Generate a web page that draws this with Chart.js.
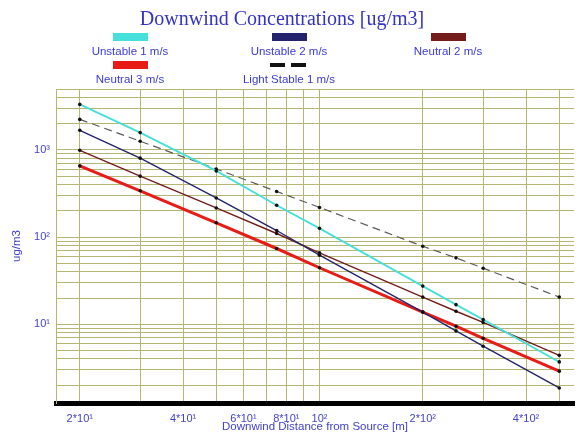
<!DOCTYPE html>
<html>
<head>
<meta charset="utf-8">
<script src="https://cdn.jsdelivr.net/npm/chart.js@4"></script>
<style>
html,body{margin:0;padding:0;background:#fff}
#wrap{width:578px;height:434px;position:relative}
</style>
</head>
<body>
<div id="wrap"><canvas id="chart"></canvas></div>
<script>
const distances=[20,30,50,75,100,200,250,300,500]

const unstable1=[3330,1580,575,232,126,27.4,16.8,11.3,3.7]
const unstable2=[1680,805,281,119,62,13.8,8.4,5.6,1.86]
const neutral2=[990,500,216,110,66,20.5,14.1,10.5,4.4]
const neutral3=[656,340,146,74,44.5,13.8,9.5,6.9,2.9]
const lightStable1=[2240,1260,605,334,219,78.5,57.8,44,20.5]

const seriesNames=["Unstable 1 m/s","Unstable 2 m/s","Neutral 2 m/s","Neutral 3 m/s","Light Stable 1 m/s"]

const xGrid=[20,30,40,50,60,70,80,90,100,200,300,400,500]
const xTickValues=[20,40,60,80,100,200,400]
const xTickLabels=["2*10¹","4*10¹","6*10¹","8*10¹","10²","2*10²","4*10²"]

const yGrid=[2,3,4,5,6,7,8,9,10,20,30,40,50,60,70,80,90,100,200,300,400,500,600,700,800,900,1000,2000,3000,4000,5000]
const yTickValues=[10,100,1000]
const yTickLabels=["10¹","10²","10³"]

const blue="#4242cc"
const gridColor="#b6b672"

function pts(arr){
return distances.map((d,i)=>({x:d,y:arr[i]}))
}

const styles=[
{color:"#45e0dc",width:1.8,dash:[]},
{color:"#24246e",width:1.4,dash:[]},
{color:"#741c1c",width:1.4,dash:[]},
{color:"#e81c16",width:3,dash:[]},
{color:"#5a5a5a",width:1.2,dash:[8,5]}
]
const allSeries=[unstable1,unstable2,neutral2,neutral3,lightStable1]

const datasets=allSeries.map((s,i)=>({
label:seriesNames[i],
data:pts(s),
borderColor:styles[i].color,
borderWidth:styles[i].width,
borderDash:styles[i].dash,
pointRadius:1.8,
pointBackgroundColor:"#111",
pointBorderWidth:0,
tension:0,
fill:false
}))

// title + two row legend with swatch over text
const headerPlugin={
id:"header",
afterDraw(chart){
const c=chart.ctx
c.save()
c.fillStyle="#3434c4"
c.font="20px 'Liberation Serif'"
c.textAlign="center"
c.textBaseline="middle"
c.fillText("Downwind Concentrations [ug/m3]",282,20)

const cols=[130,289,448]
const rows=[{sw:37,tx:52},{sw:65,tx:80}]
chart.data.datasets.forEach((ds,i)=>{
const cx=cols[i%3]
const r=rows[Math.floor(i/3)]
if(ds.borderDash.length){
c.fillStyle="#111"
c.fillRect(cx-19,r.sw-2,15,4)
c.fillRect(cx+2,r.sw-2,15,4)
}else{
c.fillStyle=ds.borderColor
c.fillRect(cx-17,r.sw-4,35,8)
}
c.fillStyle="#3a3ad2"
c.font="11.5px 'Liberation Sans'"
c.fillText(ds.label,cx,r.tx)
})
c.restore()
}
}

new Chart(document.getElementById("chart"),{
type:"line",
data:{datasets},
plugins:[headerPlugin],
options:{
responsive:true,
maintainAspectRatio:false,
animation:false,
layout:{padding:{top:89,left:0,right:0,bottom:0}},
plugins:{legend:{display:false},title:{display:false},tooltip:{enabled:false}},
scales:{
x:{
type:"logarithmic",
min:17.05,
max:552,
afterFit(s){s.height=31},
afterBuildTicks(s){s.ticks=xGrid.map(v=>({value:v}))},
grid:{color:gridColor,lineWidth:1,drawTicks:false},
border:{color:"#000",width:5},
ticks:{
autoSkip:false,maxRotation:0,padding:9,color:blue,
font:{family:"Liberation Sans",size:11},
callback(v){const k=xTickValues.indexOf(v);return k<0?"":xTickLabels[k]}
},
title:{display:true,text:"Downwind Distance from Source [m]",color:blue,
font:{family:"Liberation Sans",size:11.5},padding:{top:0,bottom:0}}
},
y:{
type:"logarithmic",
min:1.25,
max:5000,
afterFit(s){s.width=56},
afterBuildTicks(s){s.ticks=yGrid.map(v=>({value:v}))},
grid:{color:gridColor,lineWidth:1,drawTicks:false},
border:{color:gridColor,width:1},
ticks:{
autoSkip:false,padding:6,color:blue,
font:{family:"Liberation Sans",size:11},
callback(v){const k=yTickValues.indexOf(v);return k<0?"":yTickLabels[k]}
},
title:{display:true,text:"ug/m3",color:blue,
font:{family:"Liberation Sans",size:11.5},padding:{top:10,bottom:0}}
}
}
}
})
</script>
</body>
</html>
